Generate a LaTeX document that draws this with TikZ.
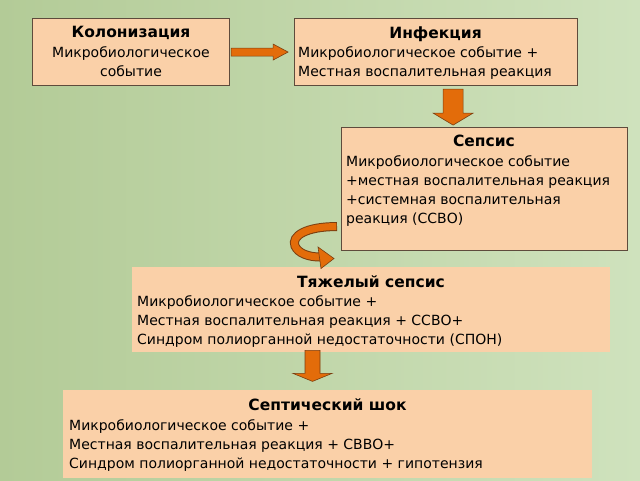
\documentclass[tikz,border=0pt]{standalone}
\usepackage{fontspec}
\setmainfont{DejaVu Sans}
\usetikzlibrary{calc}
\definecolor{bgA}{HTML}{B3CB97}
\definecolor{bgB}{HTML}{CFE2BD}
\definecolor{peach}{HTML}{FAD0A8}
\definecolor{edge}{HTML}{5E4B3C}
\definecolor{orng}{HTML}{E36C0A}
\definecolor{brn}{HTML}{7A3E10}
\begin{document}
\begin{tikzpicture}[x=1pt,y=-1pt,
 box/.style={draw=edge, line width=1.1pt, fill=peach, inner sep=0, anchor=north west},
 plainbox/.style={fill=peach, inner sep=0, anchor=north west},
 ttl/.style={font=\fontsize{15.5}{18}\selectfont\bfseries, inner sep=0, anchor=base},
 txt/.style={font=\fontsize{14}{17}\selectfont, inner sep=0, anchor=base west},
 ctxt/.style={font=\fontsize{14}{17}\selectfont, inner sep=0, anchor=base},
 blk/.style={fill=orng, draw=brn, line width=0.6pt, line join=miter}]
\useasboundingbox (0,0) rectangle (640,480);
\shade[left color=bgA, right color=bgB] (0,0) rectangle (640,480);

% boxes
\node[box, minimum width=197pt, minimum height=67pt] (b1) at (32,18) {};
\node[box, minimum width=283pt, minimum height=67pt] (b2) at (294,18) {};
\node[box, minimum width=286pt, minimum height=123pt] (b3) at (341,127) {};
\node[plainbox, minimum width=478pt, minimum height=85pt] (b4) at (132,267) {};
\node[plainbox, minimum width=529pt, minimum height=88pt] (b5) at (63,390) {};

% texts
\node[ttl] (b1t) at (131,37.5) {Колонизация};
\node[ctxt] (b1a) at (131,57) {Микробиологическое};
\node[ctxt] (b1b) at (131,76) {событие};

\node[ttl] (b2t) at (435.5,38) {Инфекция};
\node[txt] (b2a) at (298,57) {Микробиологическое событие +};
\node[txt] (b2b) at (298,76) {Местная воспалительная реакция};

\node[ttl] (b3t) at (484,146) {Сепсис};
\node[txt] (b3a) at (346,166) {Микробиологическое событие};
\node[txt] (b3b) at (346,185) {+местная воспалительная реакция};
\node[txt] (b3c) at (346,204) {+системная воспалительная};
\node[txt] (b3d) at (346,223) {реакция (ССВО)};

\node[ttl] (b4t) at (371,287) {Тяжелый сепсис};
\node[txt] (b4a) at (137,306) {Микробиологическое событие +};
\node[txt] (b4b) at (137,325) {Местная воспалительная реакция + ССВО+};
\node[txt] (b4c) at (137,344) {Синдром полиорганной недостаточности (СПОН)};

\node[ttl] (b5t) at (327.5,410) {Септический шок};
\node[txt] (b5a) at (69,430) {Микробиологическое событие +};
\node[txt] (b5b) at (69,449) {Местная воспалительная реакция + СВВО+};
\node[txt] (b5c) at (69,468) {Синдром полиорганной недостаточности + гипотензия};

% arrows
\coordinate (r1) at ($(b1.east)+(1,0)$);
\draw[blk] ($(r1)+(0,-4)$) -- ++(42,0) -- ++(0,-4) -- ++(15,8) -- ++(-15,8) -- ++(0,-4) -- ++(-42,0) -- cycle;

\coordinate (d1) at ($(b2.south east)+(-125,3)$);
\draw[blk] ($(d1)+(-10,0)$) -- ++(20,0) -- ++(0,24) -- ++(10,0) -- ++(-20,12) -- ++(-20,-12) -- ++(10,0) -- cycle;

\coordinate (d2) at ($(b4.south west)+(180.5,-2)$);
\draw[blk] ($(d2)+(-7.5,0)$) -- ++(15,0) -- ++(0,23) -- ++(12,0) -- ++(-19.5,8) -- ++(-19.5,-8) -- ++(12,0) -- cycle;

% curved arrow
\coordinate (c0) at ($(b3.west)+(-4,37.5)$);
\draw[brn, line width=9pt] (c0) .. controls (306,226.5) and (291,236) .. (295,246) .. controls (298,253) and (308,257) .. (320,257);
\draw[orng, line width=7pt] ($(c0)+(-0.7,0)$) .. controls (306,226.5) and (291,236) .. (295,246) .. controls (298,253) and (308,257) .. (320,257);
\draw[blk] (318,247) -- (334,258.5) -- (321,268.5) -- cycle;
\end{tikzpicture}
\end{document}
